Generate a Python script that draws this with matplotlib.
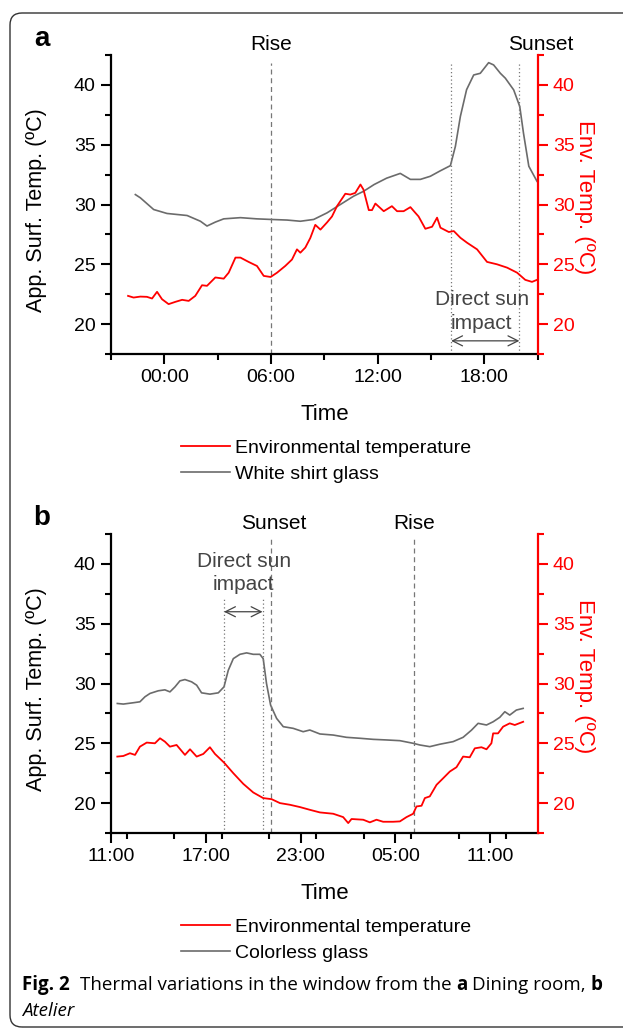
import matplotlib
matplotlib.use("Agg")
import matplotlib.pyplot as plt
from matplotlib.patches import FancyBboxPatch
from matplotlib.ticker import MultipleLocator, FixedLocator

plt.rcParams['font.family'] = ['Liberation Sans', 'DejaVu Sans']

RED = '#ff0000'
GRAY = '#6b6b6b'

# ---- panel a: dining room (hours after midnight) ----
a_glass_time = [-1.63, -1.35, -0.6, 0.15, 1.28, 2.03, 2.4, 2.87, 3.34, 4.28, 5.2, 6.0, 6.9, 7.65,
                8.4, 9.15, 9.9, 10.65, 11.2, 11.8, 12.5, 13.27, 13.84, 14.4, 14.96, 15.5, 16.09,
                16.37, 16.65, 17.0, 17.4, 17.77, 18.24, 18.52, 18.9, 19.18, 19.65, 19.99, 20.2,
                20.5, 20.96]
a_glass_temp = [30.83, 30.56, 29.58, 29.25, 29.08, 28.6, 28.2, 28.53, 28.8, 28.9, 28.8, 28.75, 28.7,
                28.6, 28.75, 29.3, 30.0, 30.7, 31.1, 31.67, 32.2, 32.6, 32.1, 32.1, 32.36, 32.8,
                33.25, 34.86, 37.36, 39.6, 40.83, 40.97, 41.86, 41.67, 40.97, 40.56, 39.58, 38.2,
                35.97, 33.2, 31.94]
a_env_time = [-2.04, -1.73, -1.35, -0.98, -0.69, -0.41, -0.13, 0.24, 0.62, 1.0, 1.37, 1.74, 2.12,
              2.4, 2.87, 3.34, 3.62, 4.0, 4.28, 4.74, 5.21, 5.59, 5.98, 6.34, 6.8, 7.18, 7.46,
              7.65, 7.93, 8.21, 8.49, 8.78, 9.15, 9.43, 9.71, 10.18, 10.46, 10.74, 11.03, 11.2,
              11.5, 11.68, 11.87, 12.34, 12.8, 13.09, 13.46, 13.84, 14.12, 14.3, 14.68, 15.06,
              15.34, 15.53, 16.0, 16.28, 16.65, 17.03, 17.59, 18.15, 18.71, 19.28, 19.84, 20.3,
              20.68, 20.96]
a_env_temp = [22.36, 22.22, 22.3, 22.28, 22.14, 22.7, 22.08, 21.67, 21.86, 22.03, 21.94, 22.36,
              23.25, 23.2, 23.9, 23.8, 24.3, 25.56, 25.56, 25.2, 24.86, 24.03, 23.94, 24.3, 24.86,
              25.4, 26.25, 25.97, 26.4, 27.2, 28.3, 27.9, 28.5, 29.0, 29.86, 30.9, 30.83, 30.97,
              31.67, 31.25, 29.53, 29.53, 30.08, 29.44, 29.86, 29.44, 29.44, 29.78, 29.3, 29.0,
              27.97, 28.14, 28.9, 28.06, 27.7, 27.78, 27.22, 26.8, 26.25, 25.2, 25.0, 24.72,
              24.3, 23.7, 23.53, 23.7]
a_xlim = (-3, 21)
a_xticks = [0, 6, 12, 18]
a_xticklabels = ['00:00', '06:00', '12:00', '18:00']
a_rise = 6.0
a_sun_start, a_sun_end = 16.13, 19.97
a_sunset_label_x = 21.15

# ---- panel b: atelier (hours after midnight of day 1) ----
b_glass_time = [11.4, 11.78, 12.41, 12.83, 13.15, 13.47, 13.99, 14.41, 14.73, 15.05, 15.36, 15.68,
                16.1, 16.42, 16.73, 17.26, 17.79, 18.15, 18.42, 18.74, 19.16, 19.58, 20.0, 20.42,
                20.63, 20.84, 21.1, 21.48, 21.9, 22.53, 23.16, 23.58, 24.22, 25.06, 25.9, 26.75,
                27.59, 28.43, 29.28, 30.12, 30.54, 31.17, 31.8, 32.65, 33.28, 33.81, 34.23, 34.76,
                35.18, 35.6, 35.92, 36.23, 36.65, 37.08]
b_glass_temp = [28.33, 28.28, 28.39, 28.47, 28.89, 29.17, 29.39, 29.47, 29.3, 29.72, 30.22, 30.33,
                30.14, 29.86, 29.22, 29.11, 29.22, 29.72, 31.1, 32.08, 32.44, 32.56, 32.44, 32.44,
                32.08, 30.0, 28.19, 27.08, 26.39, 26.25, 25.97, 26.11, 25.78, 25.69, 25.5, 25.42,
                25.33, 25.28, 25.22, 25.0, 24.86, 24.72, 24.92, 25.14, 25.5, 26.1, 26.67, 26.53,
                26.8, 27.17, 27.64, 27.36, 27.78, 27.92]
b_env_time = [11.4, 11.78, 12.2, 12.52, 12.83, 13.26, 13.78, 14.1, 14.41, 14.73, 15.15, 15.68, 16.0,
              16.42, 16.84, 17.26, 17.58, 18.15, 18.74, 19.37, 20.0, 20.63, 21.16, 21.69, 22.32,
              22.95, 23.58, 24.22, 25.06, 25.69, 26.01, 26.22, 26.96, 27.38, 27.8, 28.22, 28.85,
              29.28, 29.7, 30.12, 30.33, 30.65, 30.86, 31.17, 31.6, 32.02, 32.44, 32.86, 33.28,
              33.7, 34.02, 34.44, 34.76, 35.07, 35.18, 35.49, 35.81, 36.23, 36.55, 37.08]
b_env_temp = [23.89, 23.94, 24.17, 24.03, 24.72, 25.06, 25.0, 25.42, 25.14, 24.72, 24.86, 24.03,
              24.5, 23.89, 24.11, 24.67, 24.11, 23.39, 22.5, 21.61, 20.89, 20.42, 20.33, 20.0,
              19.86, 19.67, 19.44, 19.22, 19.11, 18.83, 18.33, 18.67, 18.61, 18.39, 18.61, 18.44,
              18.44, 18.47, 18.83, 19.11, 19.72, 19.78, 20.42, 20.56, 21.53, 22.08, 22.64, 23.0,
              23.89, 23.83, 24.58, 24.67, 24.5, 25.0, 25.83, 25.83, 26.39, 26.67, 26.53, 26.8]
b_xlim = (11, 38)
b_xticks = [11, 17, 23, 29, 35]
b_xticklabels = ['11:00', '17:00', '23:00', '05:00', '11:00']
b_sunset = 21.1
b_rise = 30.16
b_sun_start, b_sun_end = 18.15, 20.59

ylim = (17.5, 42.5)

W, H = 623, 1029
fig = plt.figure(figsize=(W / 100, H / 100), dpi=100)


def px(x, y):
    # figure pixel (from top-left) -> figure fraction
    return x / W, 1 - y / H


def make_panel(top_px, letter, glass_label, gt, gv, et, ev, xlim, xticks, xlabels):
    left, bottom = px(111, top_px + 299)
    ax = fig.add_axes([left, bottom, 426.7 / W, 299 / H])
    ax2 = ax.twinx()

    ax.plot(gt, gv, color=GRAY, lw=1.2, label=glass_label)
    ax2.plot(et, ev, color=RED, lw=1.3, label='Environmental temperature')

    for a in (ax, ax2):
        a.set_xlim(*xlim)
        a.set_ylim(*ylim)
        a.yaxis.set_major_locator(MultipleLocator(5))
        a.yaxis.set_minor_locator(MultipleLocator(2.5))
        a.spines['top'].set_visible(False)
    ax.spines['right'].set_visible(False)
    ax2.spines['left'].set_visible(False)
    ax2.spines['bottom'].set_visible(False)
    ax.spines['left'].set_linewidth(1.6)
    ax.spines['bottom'].set_linewidth(1.6)
    ax2.spines['right'].set_linewidth(1.6)
    ax2.spines['right'].set_color(RED)

    ax.xaxis.set_major_locator(FixedLocator(xticks))
    ax.set_xticklabels(xlabels)
    ax.xaxis.set_minor_locator(MultipleLocator(3))
    ax.tick_params(which='major', length=7, width=1.5, labelsize=14, pad=4)
    ax.tick_params(which='minor', length=4.5, width=1.5)
    ax2.tick_params(which='major', length=7, width=1.5, labelsize=14, pad=4,
                    colors=RED)
    ax2.tick_params(which='minor', length=4.5, width=1.5, colors=RED)

    ax.set_xlabel('Time', fontsize=16, labelpad=13)
    ax.set_ylabel('App. Surf. Temp. (ºC)', fontsize=15.5)
    ax.yaxis.set_label_coords(-0.15, 0.48)
    ax2.set_ylabel('Env. Temp. (ºC)', fontsize=16, color=RED, rotation=270)
    ax2.yaxis.set_label_coords(1.135, 0.525)

    lx, ly = px(181, top_px + 384)
    h1, l1 = ax2.get_legend_handles_labels()
    h2, l2 = ax.get_legend_handles_labels()
    fig.legend(h1 + h2, l1 + l2, loc='upper left', bbox_to_anchor=(lx, ly),
               frameon=False, fontsize=14, handlelength=2.5, handletextpad=0.3,
               labelspacing=0.45, borderpad=0, borderaxespad=0)

    fx, fy = px(42, top_px - 16)
    fig.text(fx, fy, letter, fontsize=20, fontweight='bold', va='center', ha='center')
    return ax, ax2


def vline(ax, x, top, style):
    ls = (0, (4, 3)) if style == 'dash' else (0, (1, 2))
    ax.plot([x, x], [ylim[0], top], color='#777777', lw=0.9, ls=ls)


def top_label(ax, x, text):
    ax.text(x, 1.035, text, transform=ax.get_xaxis_transform(), ha='center', va='center',
            fontsize=15, clip_on=False)


def sun_arrow(ax, x0, x1, y_arrow, y_text, xc):
    ax.annotate('', xy=(x0, y_arrow), xytext=(x1, y_arrow),
                arrowprops=dict(arrowstyle='<->', color='#444444', lw=0.9,
                                mutation_scale=18, shrinkA=0, shrinkB=0))
    ax.text(xc, y_text, 'Direct sun\nimpact', ha='center', va='center', fontsize=15,
            color='#444444', linespacing=1.3)


# panel a
ax_a, ax2_a = make_panel(55, 'a', 'White shirt glass', a_glass_time, a_glass_temp,
                         a_env_time, a_env_temp, a_xlim, a_xticks, a_xticklabels)
vline(ax_a, a_rise, 41.8, 'dash')
vline(ax_a, a_sun_start, 41.9, 'dot')
vline(ax_a, a_sun_end, 41.9, 'dot')
top_label(ax_a, a_rise, 'Rise')
top_label(ax_a, a_sunset_label_x, 'Sunset')
sun_arrow(ax_a, a_sun_start, a_sun_end, 18.6, 21.05, 17.85)

# panel b
ax_b, ax2_b = make_panel(534, 'b', 'Colorless glass', b_glass_time, b_glass_temp,
                         b_env_time, b_env_temp, b_xlim, b_xticks, b_xticklabels)
vline(ax_b, b_sunset, 42.1, 'dash')
vline(ax_b, b_rise, 42.1, 'dash')
vline(ax_b, b_sun_start, 37.1, 'dot')
vline(ax_b, b_sun_end, 37.1, 'dot')
top_label(ax_b, b_sunset + 0.2, 'Sunset')
top_label(ax_b, b_rise, 'Rise')
sun_arrow(ax_b, b_sun_start, b_sun_end, 36.0, 39.25, 19.4)

# rounded frame around the figure
frame = FancyBboxPatch((0.1, 0.02), 6.6, 10.14, boxstyle='round,pad=0,rounding_size=0.12',
                       transform=fig.dpi_scale_trans, fill=False, ec='#333333', lw=1.0)
fig.patches.append(frame)

# caption with mixed weights
cap_font = ['Open Sans', 'DejaVu Sans']
cap_size = 13.5
renderer = fig.canvas.get_renderer()
space = (fig.text(0, 0, 'a a', fontsize=cap_size, family=cap_font).get_window_extent(renderer).width
         - fig.text(0, 0, 'aa', fontsize=cap_size, family=cap_font).get_window_extent(renderer).width)
for t in fig.texts[-2:]:
    t.remove()

pieces = [('Fig. 2', 'bold', 2), ('Thermal variations in the window from the', 'normal', 1),
          ('a', 'bold', 1), ('Dining room,', 'normal', 1), ('b', 'bold', 0)]
cx = 22
cy = 1 - 985 / H
for txt, wt, gap in pieces:
    t = fig.text(cx / W, cy, txt, fontsize=cap_size, family=cap_font, fontweight=wt, va='center')
    cx += t.get_window_extent(renderer).width + gap * space
fig.text(22 / W, 1 - 1011 / H, 'Atelier', fontsize=cap_size, family=cap_font, style='italic',
         va='center')

fig.savefig('out.png', dpi=100)
